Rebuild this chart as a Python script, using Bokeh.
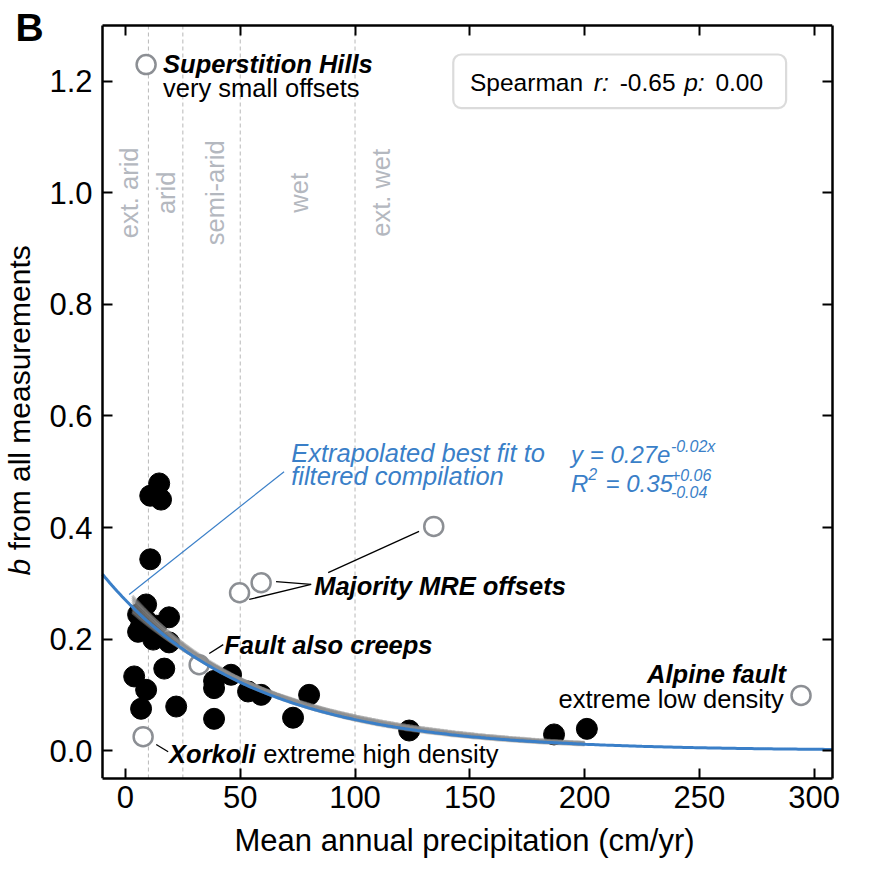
import numpy as np
from math import pi
from bokeh.plotting import figure
from bokeh.models import (LinearAxis, FixedTicker, NumeralTickFormatter, BoxAnnotation,
                          Label, CustomJSTickFormatter, Range1d, Title)
from bokeh.core.properties import value
from bokeh.embed import file_html
from bokeh.resources import INLINE

# ---------------- data ----------------
# filtered compilation (black dots): precipitation (cm/yr), b value
precip_filtered = [14.7, 10.8, 15.5, 10.8, 9.0, 5.5, 19.0, 5.5, 12.1, 19.0, 6.8, 13.4, 9.0,
                   16.9, 3.8, 9.0, 6.8, 22.1, 38.6, 38.6, 46.0, 38.6, 53.4, 59.1, 73.0, 80.0,
                   123.6, 186.7, 201.0]
b_filtered = [0.479, 0.457, 0.450, 0.343, 0.262, 0.244, 0.239, 0.213, 0.199, 0.194, 0.224, 0.224,
              0.233, 0.147, 0.133, 0.109, 0.075, 0.079, 0.125, 0.112, 0.136, 0.057, 0.106, 0.100,
              0.059, 0.100, 0.036, 0.029, 0.039]

# excluded sites (open circles)
precip_excluded = [9.0, 7.7, 32.1, 49.7, 59.1, 134.3, 294.3]
b_excluded = [1.230, 0.025, 0.154, 0.283, 0.301, 0.402, 0.099]

# climate zone boundaries and labels
zone_bounds = [10, 25, 50, 100]
zone_labels = ["ext. arid", "arid", "semi-arid", "wet", "ext. wet"]
zone_label_x = [1.6, 17.7, 39.0, 75.4, 111.3]

# exponential best fit y = a*exp(-k x) and bootstrap fits
fit_a = 0.27
fit_k = 0.0158
boot_a = [0.270, 0.285, 0.262, 0.292, 0.276, 0.266, 0.281, 0.258, 0.288, 0.272]
boot_k = [0.0158, 0.0163, 0.0148, 0.0168, 0.0152, 0.0145, 0.0157, 0.0142, 0.0160, 0.0150]
boot_xmin, boot_xmax = 3.0, 200.0

x_ticks = [0, 50, 100, 150, 200, 250, 300]
y_ticks = [0.0, 0.2, 0.4, 0.6, 0.8, 1.0, 1.2]

X_LO, X_HI = -10, 308
Y_LO, Y_HI = -0.05, 1.3

FONT = "Liberation Sans"
BLUE = "#3a7fc8"
GRAY_PT = "#8c8f94"
ZONE_C = "#b4b8bf"
ANN = 25.5
EQ = 24
SUP = 16
SP = 24.5
MID = 0.346  # distance from baseline to text middle, in em

# ---------------- figure ----------------
# The frame reaches the top-left corner of the canvas so that the panel letter and the
# y-axis title (drawn as labels) are not clipped; left/top axes sit at fixed locations.
px_per_x = (832 - 102) / (X_HI - X_LO)
px_per_y = (778 - 25) / (Y_HI - Y_LO)
p = figure(frame_width=832, frame_height=778,
           x_range=Range1d(X_LO - 102 / px_per_x, X_HI),
           y_range=Range1d(Y_LO, Y_HI + 25 / px_per_y),
           output_backend="svg", toolbar_location=None, y_axis_location=None,
           min_border_left=0, min_border_right=46, min_border_top=0, min_border_bottom=98)
p.xgrid.visible = False
p.ygrid.visible = False
p.outline_line_color = None
p.background_fill_color = "white"
p.border_fill_color = "white"

def style_axis(ax, show_labels):
    ax.axis_line_width = 2.5
    ax.axis_line_color = "black"
    ax.major_tick_in = 10
    ax.major_tick_out = 0
    ax.major_tick_line_width = 2
    ax.minor_tick_in = 0
    ax.minor_tick_out = 0
    ax.major_label_text_font = FONT
    ax.major_label_text_color = "black"
    if show_labels:
        ax.major_label_text_font_size = "31px"
    else:
        ax.major_label_text_font_size = "0px"
        ax.major_label_standoff = 0

xax = p.xaxis[0]
xax.ticker = FixedTicker(ticks=x_ticks)
xax.bounds = (X_LO, X_HI)
style_axis(xax, True)
xax.major_label_standoff = 7

p.add_layout(Title(text="Mean annual precipitation (cm/yr)", align="left", offset=234,
                   text_font=FONT, text_font_size="31px", text_font_style="normal",
                   text_color="black", standoff=20), "below")

yax = LinearAxis(ticker=FixedTicker(ticks=y_ticks), formatter=NumeralTickFormatter(format="0.0"),
                 fixed_location=X_LO, bounds=(Y_LO, Y_HI))
style_axis(yax, True)
yax.major_label_standoff = 10
p.add_layout(yax, "left")

top_ax = LinearAxis(ticker=FixedTicker(ticks=x_ticks), formatter=CustomJSTickFormatter(code="return ''"),
                    fixed_location=Y_HI, bounds=(X_LO, X_HI))
right_ax = LinearAxis(ticker=FixedTicker(ticks=y_ticks), formatter=CustomJSTickFormatter(code="return ''"),
                      bounds=(Y_LO, Y_HI))
style_axis(top_ax, False)
style_axis(right_ax, False)
p.add_layout(top_ax, "above")
p.add_layout(right_ax, "right")

# climate zone dashed lines
p.segment(x0=zone_bounds, y0=[Y_LO] * len(zone_bounds), x1=zone_bounds, y1=[Y_HI] * len(zone_bounds),
          line_color="#b8b8b8", line_width=1, line_dash="4 3")

# zone labels
p.text(x=zone_label_x, y=[1.0] * len(zone_labels), text=zone_labels, angle=pi / 2,
       text_align="center", text_baseline="middle", text_color=ZONE_C,
       text_font=value(FONT), text_font_size=f"{ANN}px")

# points
p.scatter(precip_filtered, b_filtered, size=21, fill_color="black", line_color="black")
p.scatter(precip_excluded, b_excluded, size=19, fill_color="white", line_color=GRAY_PT,
          line_width=2.5)

# bootstrap fits
xb_line = np.linspace(boot_xmin, boot_xmax, 120)
boot_xs = [list(xb_line) for _ in boot_a]
boot_ys = [list(a * np.exp(-k * xb_line)) for a, k in zip(boot_a, boot_k)]
p.multi_line(boot_xs, boot_ys, line_color="#8f8f8f", line_alpha=0.45, line_width=3)

# best fit
xf = np.linspace(X_LO, X_HI, 300)
p.line(xf, fit_a * np.exp(-fit_k * xf), line_color=BLUE, line_width=3)

# leader lines
p.segment(x0=[80.9, 80.9, 88.3, 42.6, 18.6], y0=[0.298, 0.298, 0.319, 0.190, -0.002],
          x1=[65.6, 53.9, 127.9, 36.5, 13.4], y1=[0.303, 0.271, 0.393, 0.174, 0.011],
          line_color="black", line_width=1.3)
p.segment(x0=[69.1], y0=[0.500], x1=[1.6], y1=[0.280], line_color=BLUE, line_width=1.2)

# text annotations (y is the baseline; anchor placed at the text middle)
def txt(x, y, s, style="normal", fs=ANN, color="black", align="left"):
    p.text(x=[x], y=[y + MID * fs / px_per_y], text=[s], text_font=value(FONT),
           text_font_size=f"{fs}px", text_font_style=style, text_color=color,
           text_align=align, text_baseline="middle")

txt(16.4, 1.216, "Superstition Hills", "bold italic")
txt(16.4, 1.172, "very small offsets")
txt(82.2, 0.280, "Majority MRE offsets", "bold italic")
txt(43.0, 0.174, "Fault also creeps", "bold italic")
txt(19.0, -0.0215, "Xorkoli", "bold italic")
txt(60.0, -0.0215, "extreme high density")
txt(287.7, 0.122, "Alpine fault", "bold italic", align="right")
txt(286.8, 0.077, "extreme low density", align="right")

txt(72.2, 0.518, "Extrapolated best fit to", "italic", ANN, BLUE)
txt(72.2, 0.477, "filtered compilation", "italic", ANN, BLUE)
txt(194.1, 0.5165, "y = 0.27e", "italic", EQ, BLUE)
txt(237.6, 0.5345, "-0.02x", "italic", SUP, BLUE)
txt(194.1, 0.4645, "R", "italic", EQ, BLUE)
txt(201.6, 0.486, "2", "italic", SUP, BLUE)
txt(209.1, 0.4645, "= 0.35", "italic", EQ, BLUE)
txt(237.6, 0.484, "+0.06", "italic", SUP, BLUE)
txt(237.6, 0.4538, "-0.04", "italic", SUP, BLUE)

# Spearman box
p.add_layout(BoxAnnotation(left=142.8, right=287.8, bottom=1.152, top=1.248, fill_color="white",
                           fill_alpha=1.0, line_color="#888888", line_width=2.2, border_radius=8,
                           level="underlay"))
txt(150.1, 1.182, "Spearman", fs=SP)
txt(204.0, 1.182, "r:", "italic", fs=SP)
txt(215.3, 1.182, "-0.65", fs=SP)
txt(243.4, 1.182, "p:", "italic", fs=SP)
txt(257.0, 1.182, "0.00", fs=SP)

# panel letter and y axis title
p.add_layout(Label(x=-47.9, y=1.273 + MID * 39 / px_per_y, text="B", text_font=FONT,
                   text_font_size="39px", text_font_style="bold", text_color="black",
                   text_align="left", text_baseline="middle"))
ylab_x = -41.8 - MID * 30 / px_per_x
p.add_layout(Label(x=ylab_x, y=0.314, text="b", angle=pi / 2, text_font=FONT,
                   text_font_size="30px", text_font_style="italic", text_color="black",
                   text_align="left", text_baseline="middle"))
p.add_layout(Label(x=ylab_x, y=0.359, text="from all measurements", angle=pi / 2, text_font=FONT,
                   text_font_size="30px", text_color="black", text_align="left",
                   text_baseline="middle"))

open("out.html", "w").write(file_html(p, INLINE))
